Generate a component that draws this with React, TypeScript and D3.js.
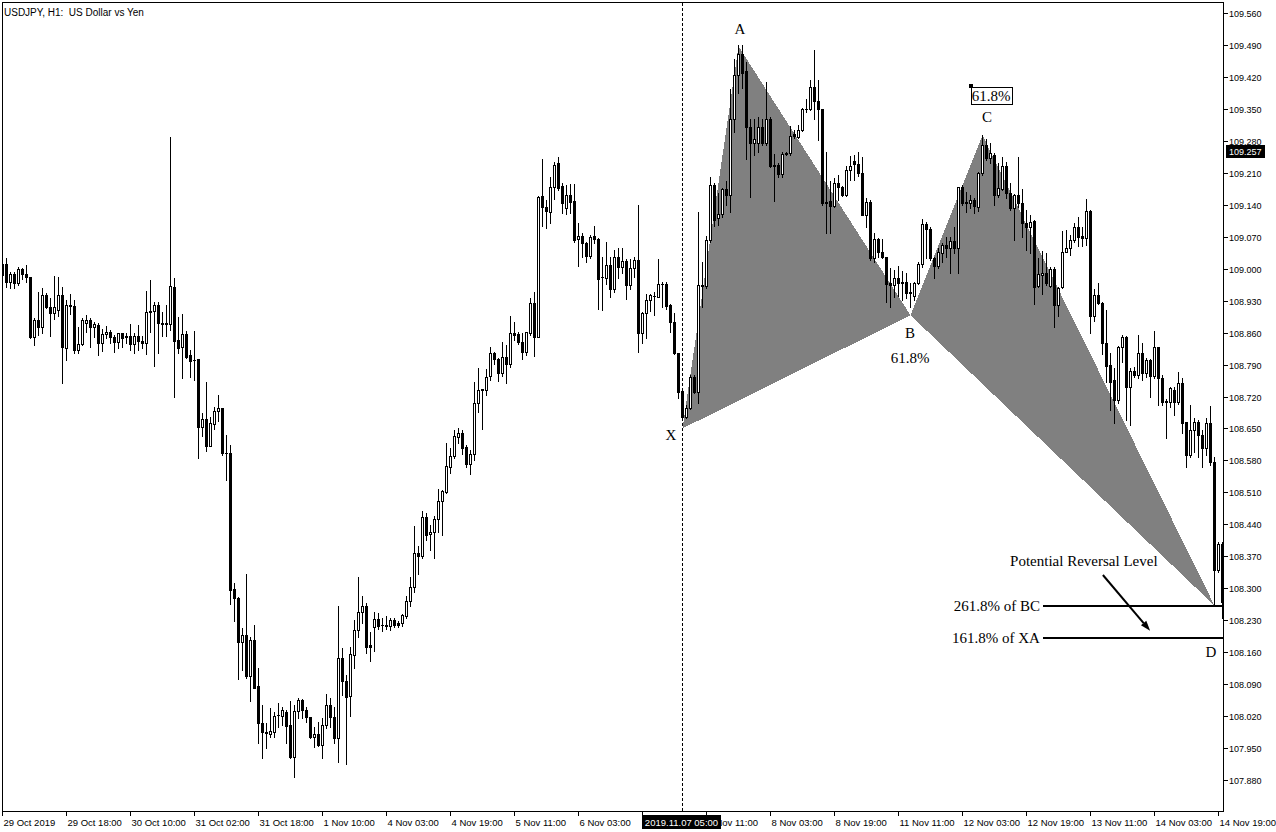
import React, { useEffect } from "react";
import * as d3 from "d3";

// ---- OHLC data (USDJPY H1), one value per bar ----
const OPEN = [
108.986,109.010,108.971,108.989,108.969,108.999,108.989,108.982,108.851,108.888,
108.872,108.942,108.916,108.903,108.910,108.942,108.827,108.921,108.918,108.822,
108.835,108.881,108.888,108.872,108.877,108.837,108.857,108.861,108.851,108.840,
108.859,108.853,108.853,108.835,108.853,108.842,108.837,108.907,108.907,108.921,
108.881,108.879,108.879,108.960,108.844,108.829,108.857,108.811,108.800,108.803,
108.653,108.671,108.612,108.660,108.688,108.695,108.596,108.596,108.298,108.279,
108.183,108.198,108.108,108.187,108.086,108.005,107.985,107.981,107.985,108.023,
108.020,108.029,108.001,107.930,108.031,108.055,108.034,108.018,107.974,107.981,
107.957,108.001,108.045,108.018,107.972,108.148,108.097,108.064,108.153,108.209,
108.248,108.261,108.176,108.216,108.233,108.220,108.220,108.218,108.231,108.224,
108.224,108.239,108.272,108.303,108.377,108.371,108.456,108.418,108.423,108.452,
108.491,108.511,108.566,108.590,108.631,108.640,108.609,108.572,108.594,108.706,
108.734,108.734,108.765,108.815,108.803,108.772,108.807,108.792,108.859,108.857,
108.840,108.818,108.859,108.925,108.851,109.159,109.135,109.124,109.179,109.231,
109.182,109.133,109.161,109.148,109.065,109.072,109.056,109.028,109.072,109.065,
108.982,108.980,109.008,108.955,109.026,109.004,109.017,108.964,109.002,109.019,
108.859,108.903,108.932,108.940,108.938,108.967,108.967,108.921,108.883,108.815,
108.732,108.675,108.695,108.763,108.730,108.962,108.962,109.063,109.184,109.111,
109.120,109.175,109.161,109.328,109.424,109.470,109.433,109.310,109.275,109.275,
109.310,109.275,109.328,109.227,109.227,109.208,109.251,109.253,109.295,109.288,
109.303,109.350,109.350,109.398,109.367,109.350,109.146,109.148,109.137,109.188,
109.179,109.161,109.216,109.235,109.230,109.210,109.118,109.146,109.024,109.065,
109.037,109.026,108.969,108.964,108.980,108.971,108.971,108.949,108.940,108.969,
109.010,109.098,109.087,109.024,109.006,109.034,109.052,109.045,109.061,109.045,
109.179,109.146,109.144,109.151,109.135,109.210,109.271,109.242,109.249,109.161,
109.175,109.224,109.166,109.133,109.161,109.144,109.100,109.091,109.104,108.962,
108.986,108.991,108.962,108.999,108.921,108.960,109.037,109.045,109.063,109.091,
109.072,109.067,109.126,108.897,108.942,108.925,108.837,108.790,108.756,108.713,
108.829,108.851,108.741,108.776,108.767,108.815,108.772,108.800,108.765,108.829,
108.761,108.711,108.708,108.734,108.708,108.750,108.664,108.592,108.647,108.664,
108.636,108.607,108.662,108.576,108.340,108.397];

const HIGH = [
109.019,109.024,108.993,108.993,109.004,109.002,109.008,108.982,108.892,108.949,
108.958,108.946,108.936,108.984,108.982,108.960,108.932,108.944,108.932,108.872,
108.892,108.899,108.892,108.883,108.881,108.868,108.874,108.866,108.855,108.859,
108.859,108.859,108.879,108.859,108.877,108.853,108.951,108.975,108.927,108.927,
108.905,108.921,109.289,108.980,108.894,108.901,108.864,108.822,108.864,108.803,
108.684,108.752,108.675,108.697,108.723,108.695,108.636,108.614,108.312,108.281,
108.213,108.331,108.194,108.220,108.125,108.045,108.005,108.038,108.029,108.049,
108.040,108.034,108.053,108.045,108.059,108.058,108.040,108.018,107.996,108.007,
108.016,108.069,108.059,108.040,108.261,108.170,108.110,108.172,108.231,108.325,
108.283,108.268,108.205,108.248,108.246,108.235,108.239,108.235,108.235,108.229,
108.244,108.283,108.325,108.437,108.392,108.469,108.465,108.439,108.458,108.518,
108.516,108.618,108.607,108.647,108.651,108.647,108.614,108.603,108.752,108.783,
108.737,108.780,108.829,108.818,108.805,108.840,108.833,108.897,108.883,108.861,
108.859,108.861,108.936,108.949,109.159,109.240,109.151,109.201,109.234,109.244,
109.188,109.184,109.186,109.186,109.100,109.078,109.058,109.074,109.094,109.067,
109.026,109.058,109.026,109.041,109.045,109.045,109.021,109.021,109.026,109.140,
108.905,108.944,108.944,108.949,109.021,108.971,108.971,108.923,108.903,108.815,
108.734,108.701,108.767,108.767,109.124,109.015,109.072,109.201,109.188,109.166,
109.177,109.191,109.394,109.459,109.490,109.490,109.453,109.328,109.328,109.332,
109.328,109.409,109.332,109.251,109.231,109.255,109.255,109.313,109.303,109.315,
109.352,109.372,109.413,109.479,109.413,109.350,109.255,109.191,109.199,109.205,
109.182,109.224,109.247,109.249,109.255,109.244,109.155,109.151,109.078,109.067,
109.065,109.026,109.002,108.997,109.006,108.995,108.991,108.969,108.971,109.015,
109.109,109.103,109.091,109.026,109.045,109.056,109.069,109.069,109.091,109.179,
109.184,109.168,109.161,109.155,109.212,109.293,109.284,109.275,109.253,109.231,
109.244,109.234,109.188,109.164,109.244,109.175,109.129,109.118,109.107,109.024,
109.039,109.034,109.004,109.004,108.960,109.083,109.085,109.074,109.100,109.113,
109.091,109.153,109.129,108.955,108.969,108.927,108.910,108.815,108.783,108.831,
108.855,108.853,108.783,108.785,108.855,108.837,108.805,108.803,108.864,108.829,
108.767,108.715,108.741,108.741,108.774,108.761,108.664,108.701,108.673,108.669,
108.647,108.673,108.699,108.588,108.402,108.402];

const LOW = [
108.971,108.960,108.958,108.958,108.964,108.978,108.971,108.848,108.833,108.855,
108.859,108.914,108.853,108.890,108.897,108.750,108.800,108.901,108.815,108.815,
108.833,108.861,108.829,108.851,108.811,108.820,108.848,108.837,108.818,108.827,
108.829,108.837,108.822,108.815,108.822,108.827,108.813,108.861,108.787,108.815,
108.853,108.853,108.866,108.719,108.815,108.761,108.805,108.763,108.756,108.586,
108.633,108.601,108.612,108.649,108.666,108.592,108.537,108.266,108.229,108.102,
108.121,108.104,108.053,108.082,107.961,107.928,107.950,107.974,107.974,107.996,
108.001,107.961,107.928,107.887,108.016,108.016,108.007,107.972,107.952,107.955,
107.928,107.994,107.996,107.961,107.919,108.066,107.915,108.020,108.126,108.194,
108.224,108.159,108.141,108.163,108.211,108.207,108.211,108.209,108.216,108.216,
108.218,108.235,108.261,108.292,108.331,108.366,108.405,108.384,108.366,108.423,
108.416,108.509,108.553,108.586,108.618,108.594,108.566,108.551,108.581,108.686,
108.649,108.723,108.756,108.792,108.754,108.765,108.750,108.785,108.844,108.835,
108.803,108.811,108.855,108.809,108.851,109.094,109.089,109.100,109.153,109.173,
109.122,109.120,109.122,109.058,109.006,109.026,109.015,109.024,109.056,108.912,
108.910,108.967,108.938,108.949,108.980,108.991,108.934,108.955,108.982,108.818,
108.837,108.848,108.907,108.899,108.938,108.916,108.912,108.861,108.813,108.717,
108.669,108.673,108.693,108.728,108.706,108.916,108.958,109.058,109.094,109.096,
109.113,109.140,109.124,109.299,109.385,109.396,109.240,109.157,109.249,109.255,
109.271,109.271,109.222,109.148,109.201,109.201,109.248,109.248,109.286,109.286,
109.301,109.343,109.348,109.328,109.282,109.140,109.078,109.078,109.135,109.151,
109.159,109.159,109.194,109.194,109.203,109.118,109.091,109.019,109.015,109.026,
109.024,108.927,108.916,108.938,108.940,108.932,108.936,108.916,108.932,108.967,
109.004,109.024,109.019,108.980,109.002,109.015,109.026,108.991,109.034,108.991,
109.140,109.124,109.133,109.122,109.126,109.205,109.238,109.231,109.140,109.157,
109.173,109.155,109.129,109.063,109.135,109.069,109.041,109.034,108.923,108.960,
108.945,108.964,108.960,108.872,108.897,108.958,109.037,109.030,109.058,109.050,
109.050,109.052,108.859,108.885,108.923,108.813,108.752,108.691,108.662,108.706,
108.796,108.669,108.658,108.763,108.761,108.756,108.763,108.719,108.761,108.701,
108.701,108.629,108.697,108.680,108.704,108.640,108.566,108.588,108.599,108.588,
108.566,108.592,108.570,108.264,108.336,108.235];

const CLOSE = [
109.010,108.971,108.989,108.969,108.999,108.989,108.982,108.851,108.888,108.872,
108.942,108.916,108.903,108.916,108.942,108.829,108.921,108.918,108.822,108.835,
108.888,108.888,108.872,108.879,108.837,108.857,108.861,108.851,108.840,108.859,
108.848,108.851,108.835,108.853,108.842,108.837,108.905,108.905,108.921,108.881,
108.879,108.881,108.962,108.842,108.827,108.857,108.807,108.798,108.800,108.653,
108.671,108.612,108.662,108.688,108.695,108.596,108.596,108.296,108.279,108.183,
108.198,108.108,108.187,108.082,108.005,107.985,107.983,107.987,108.020,108.023,
108.034,107.998,107.930,108.031,108.055,108.034,108.018,107.974,107.981,107.957,
108.001,108.045,108.018,107.972,108.148,108.097,108.062,108.155,108.209,108.248,
108.261,108.172,108.172,108.233,108.218,108.220,108.218,108.231,108.220,108.220,
108.242,108.272,108.303,108.377,108.371,108.456,108.416,108.423,108.452,108.491,
108.513,108.568,108.590,108.634,108.640,108.607,108.572,108.594,108.706,108.734,
108.737,108.763,108.815,108.803,108.772,108.807,108.792,108.859,108.855,108.840,
108.818,108.861,108.925,108.851,109.157,109.135,109.126,109.179,109.227,109.177,
109.144,109.161,109.146,109.063,109.072,109.056,109.028,109.069,109.065,108.978,
108.982,109.008,108.955,109.026,109.004,109.017,108.964,109.002,109.019,108.859,
108.903,108.932,108.942,108.940,108.967,108.967,108.918,108.883,108.815,108.730,
108.675,108.695,108.763,108.730,108.964,108.964,109.063,109.184,109.107,109.120,
109.175,109.161,109.328,109.424,109.470,109.429,109.310,109.275,109.284,109.310,
109.275,109.328,109.224,109.224,109.208,109.251,109.253,109.290,109.290,109.303,
109.350,109.350,109.398,109.367,109.350,109.144,109.144,109.137,109.188,109.179,
109.161,109.216,109.224,109.230,109.210,109.118,109.146,109.024,109.065,109.037,
109.026,108.967,108.964,108.980,108.969,108.969,108.946,108.946,108.969,109.010,
109.098,109.087,109.024,109.006,109.037,109.052,109.045,109.061,109.045,109.179,
109.144,109.144,109.151,109.137,109.210,109.271,109.242,109.253,109.161,109.177,
109.224,109.166,109.133,109.161,109.144,109.100,109.091,109.102,108.960,108.989,
108.991,108.969,108.999,108.921,108.958,109.037,109.045,109.063,109.091,109.069,
109.067,109.126,108.897,108.942,108.925,108.837,108.787,108.752,108.713,108.829,
108.851,108.741,108.776,108.767,108.815,108.772,108.800,108.765,108.829,108.761,
108.708,108.708,108.739,108.708,108.750,108.662,108.592,108.647,108.664,108.636,
108.607,108.662,108.576,108.340,108.397,108.270];

// ---- axes ----
const X_TICK_BARS = [0, 16, 32, 48, 64, 80, 96, 112, 128, 144, 160, 176, 192, 208, 224, 240, 256, 272, 288, 304];
// the label of bar 160 sits fully under the cursor's date box in the reference, so it is empty
const X_TICK_LABELS = [
  "29 Oct 2019", "29 Oct 18:00", "30 Oct 10:00", "31 Oct 02:00", "31 Oct 18:00",
  "1 Nov 10:00", "4 Nov 03:00", "4 Nov 19:00", "5 Nov 11:00", "6 Nov 03:00",
  "", "7 Nov 11:00", "8 Nov 03:00", "8 Nov 19:00", "11 Nov 11:00",
  "12 Nov 03:00", "12 Nov 19:00", "13 Nov 11:00", "14 Nov 03:00", "14 Nov 19:00",
];
const Y_TICKS = [
  109.56, 109.49, 109.42, 109.35, 109.28, 109.21, 109.14, 109.07, 109.0,
  108.93, 108.86, 108.79, 108.72, 108.65, 108.58, 108.51, 108.44, 108.37,
  108.3, 108.23, 108.16, 108.09, 108.02, 107.95, 107.88,
];
const CURRENT_PRICE = 109.257;
const CURSOR_BAR = 170;
const CURSOR_LABEL = "2019.11.07 05:00";
const TITLE = "USDJPY, H1:  US Dollar vs Yen";

// ---- harmonic pattern ----
const PATTERN_NAMES = ["X", "A", "B", "C", "D"];
const PATTERN_BARS = [170, 184, 227, 245, 303];
const PATTERN_PRICES = [108.65, 109.487, 108.898, 109.292, 108.262];
const RATIO_LABELS = ["61.8%", "61.8%"];
const LEVEL_PRICES = [108.262, 108.192];
const LEVEL_LABELS = ["261.8% of BC", "161.8% of XA"];
const LEVEL_START_BAR = 260.1;
const PRL_TEXT = "Potential Reversal Level";
const PRL_BAR = 251.9;
const PRL_PRICE = 108.349;
const ARROW_BARS = [275.1, 286.9];
const ARROW_PRICES = [108.329, 108.207];

const W = 1276;
const H = 832;
const PL = 2.5, PT = 2.5, PR = 1223.5, PB = 811.5;

export default function App() {
  useEffect(() => {
    document.body.style.margin = "0";
  }, []);

  const n = CLOSE.length;
  const x = d3.scaleLinear().domain([0, 305]).range([2.5, 1222.5]);
  const y = d3.scaleLinear().domain([107.88, 109.56]).range([780, 13]);

  const serif = "'Liberation Serif', 'Times New Roman', serif";
  const sans = "'Liberation Sans', Arial, sans-serif";

  const px = (b: number) => x(b);
  const py = (p: number) => y(p);
  const pts = PATTERN_BARS.map((b, i) => [px(b), py(PATTERN_PRICES[i])] as [number, number]);
  const tri1 = [pts[0], pts[1], pts[2]];
  const tri2 = [pts[2], pts[3], pts[4]];
  const poly = (a: [number, number][]) => a.map((p) => p.join(",")).join(" ");

  const candles = d3.range(n).map((i) => {
    const o = OPEN[i], h = HIGH[i], l = LOW[i], c = CLOSE[i];
    const xc = Math.floor(px(i)) + 0.5;
    const yh = Math.round(py(h));
    const yl = Math.round(py(l));
    const top = Math.round(py(Math.max(o, c)));
    const bot = Math.round(py(Math.min(o, c)));
    const bull = c > o;
    let body;
    if (bot - top < 1) {
      body = <line x1={xc - 1.5} x2={xc + 1.5} y1={top + 0.5} y2={top + 0.5} stroke="#000" strokeWidth={1} />;
    } else if (bull) {
      body = <rect x={xc - 1} y={top + 0.5} width={2} height={bot - top} fill="#fff" stroke="#000" strokeWidth={1} />;
    } else {
      body = <rect x={xc - 1.5} y={top} width={3} height={bot - top + 1} fill="#000" />;
    }
    return (
      <g key={i}>
        <line x1={xc} x2={xc} y1={yh} y2={yl + 1} stroke="#000" strokeWidth={1} />
        {body}
      </g>
    );
  });

  const cx = Math.floor(px(CURSOR_BAR)) + 0.5;
  const curY = py(CURRENT_PRICE);
  const boxL = cx - 40.5, boxW = 79;

  // arrow
  const ax0 = px(ARROW_BARS[0]), ay0 = py(ARROW_PRICES[0]);
  const ax1 = px(ARROW_BARS[1]), ay1 = py(ARROW_PRICES[1]);
  const dx = ax1 - ax0, dy = ay1 - ay0;
  const len = Math.sqrt(dx * dx + dy * dy);
  const ux = dx / len, uy = dy / len;
  const hb = [ax1 - ux * 10, ay1 - uy * 10];
  const head = [
    [ax1, ay1],
    [hb[0] - uy * 3.5, hb[1] + ux * 3.5],
    [hb[0] + uy * 3.5, hb[1] - ux * 3.5],
  ] as [number, number][];

  const labelOffsets: [number, number][] = [
    [-11.5, 12],
    [1.5, -12],
    [-0.5, 23],
    [4.5, -13],
    [-3.5, 51],
  ];

  const levelX0 = px(LEVEL_START_BAR);

  return (
    <svg width={W} height={H} style={{ position: "absolute", left: 0, top: 0, background: "#fff" }}>
      <defs>
        <clipPath id="plot">
          <rect x={3} y={3} width={PR - 3} height={PB - 3} />
        </clipPath>
        <clipPath id="afterbox">
          <rect x={boxL + boxW} y={PB} width={W - boxL - boxW} height={H - PB} />
        </clipPath>
      </defs>
      <rect x={0} y={0} width={W} height={H} fill="#fff" />

      <g clipPath="url(#plot)">
        {/* pattern triangles */}
        <polygon points={poly(tri1)} fill="#808080" shapeRendering="crispEdges" />
        <polygon points={poly(tri2)} fill="#808080" shapeRendering="crispEdges" />

        {/* candles */}
        <g shapeRendering="crispEdges">{candles}</g>

        {/* cursor dashed line */}
        <line x1={cx} x2={cx} y1={PT} y2={PB} stroke="#000" strokeWidth={1} strokeDasharray="3 2" shapeRendering="crispEdges" />

        {/* level lines */}
        {LEVEL_PRICES.map((p, i) => (
          <line key={i} x1={levelX0} x2={PR} y1={Math.round(py(p))} y2={Math.round(py(p))} stroke="#000" strokeWidth={2} shapeRendering="crispEdges" />
        ))}
      </g>

      {/* frame */}
      <rect x={PL} y={PT} width={PR - PL} height={PB - PT} fill="none" stroke="#000" strokeWidth={1} shapeRendering="crispEdges" />

      {/* title */}
      <text x={4} y={16} fontFamily={sans} fontSize={10} fill="#000" style={{ whiteSpace: "pre" }} xmlSpace="preserve">{TITLE}</text>

      {/* pattern labels */}
      {PATTERN_NAMES.map((name, i) => (
        <text key={name} x={pts[i][0] + labelOffsets[i][0]} y={pts[i][1] + labelOffsets[i][1]} fontFamily={serif} fontSize={15} textAnchor="middle" fill="#000">
          {name}
        </text>
      ))}
      <text x={pts[2][0] - 0.5} y={pts[2][1] + 48} fontFamily={serif} fontSize={15} textAnchor="middle" fill="#000">
        {RATIO_LABELS[0]}
      </text>
      {/* boxed ratio near C */}
      <g>
        <rect x={Math.round(pts[3][0] - 12) + 0.5} y={Math.round(pts[3][1] - 48) + 0.5} width={41} height={17} fill="#fff" stroke="#000" strokeWidth={1} shapeRendering="crispEdges" />
        <rect x={Math.round(pts[3][0] - 14)} y={Math.round(pts[3][1] - 51)} width={4} height={4} fill="#000" />
        <text x={pts[3][0] + 8.5} y={pts[3][1] - 34} fontFamily={serif} fontSize={15} textAnchor="middle" fill="#000">
          {RATIO_LABELS[1]}
        </text>
      </g>

      {/* level labels */}
      {LEVEL_LABELS.map((t, i) => (
        <text key={t} x={levelX0 - 3} y={Math.round(py(LEVEL_PRICES[i])) + 5} fontFamily={serif} fontSize={15} textAnchor="end" fill="#000">
          {t}
        </text>
      ))}
      <text x={px(PRL_BAR)} y={py(PRL_PRICE)} fontFamily={serif} fontSize={15} fill="#000">{PRL_TEXT}</text>

      {/* arrow */}
      <line x1={ax0} y1={ay0} x2={hb[0]} y2={hb[1]} stroke="#000" strokeWidth={2} />
      <polygon points={poly(head)} fill="#000" />

      {/* right axis */}
      {Y_TICKS.map((t) => {
        const yy = Math.round(py(t)) + 0.5;
        return (
          <g key={t}>
            <line x1={PR} x2={PR + 4} y1={yy} y2={yy} stroke="#000" shapeRendering="crispEdges" />
            <text x={1229} y={yy + 3.5} fontFamily={sans} fontSize={9} fill="#000">{d3.format(".3f")(t)}</text>
          </g>
        );
      })}
      <rect x={1226} y={Math.round(curY) - 6} width={39} height={13} fill="#000" />
      <text x={1229} y={Math.round(curY) + 4} fontFamily={sans} fontSize={9} fill="#fff">{d3.format(".3f")(CURRENT_PRICE)}</text>

      {/* bottom axis */}
      {X_TICK_BARS.map((b, i) => {
        const xx = Math.floor(px(b)) + 0.5;
        const hidden = xx + 1 < boxL + boxW && xx + 60 > boxL;
        return (
          <g key={b}>
            <line x1={xx} x2={xx} y1={PB} y2={PB + 4} stroke="#000" shapeRendering="crispEdges" />
            {X_TICK_LABELS[i] ? (
              <text x={xx + 1} y={826} fontFamily={sans} fontSize={9.5} fill="#000" clipPath={hidden ? "url(#afterbox)" : undefined}>
                {X_TICK_LABELS[i]}
              </text>
            ) : null}
          </g>
        );
      })}
      <rect x={boxL} y={815} width={boxW} height={14} fill="#000" />
      <text x={cx - 1} y={826} fontFamily={sans} fontSize={9.5} textAnchor="middle" fill="#fff">{CURSOR_LABEL}</text>
    </svg>
  );
}
